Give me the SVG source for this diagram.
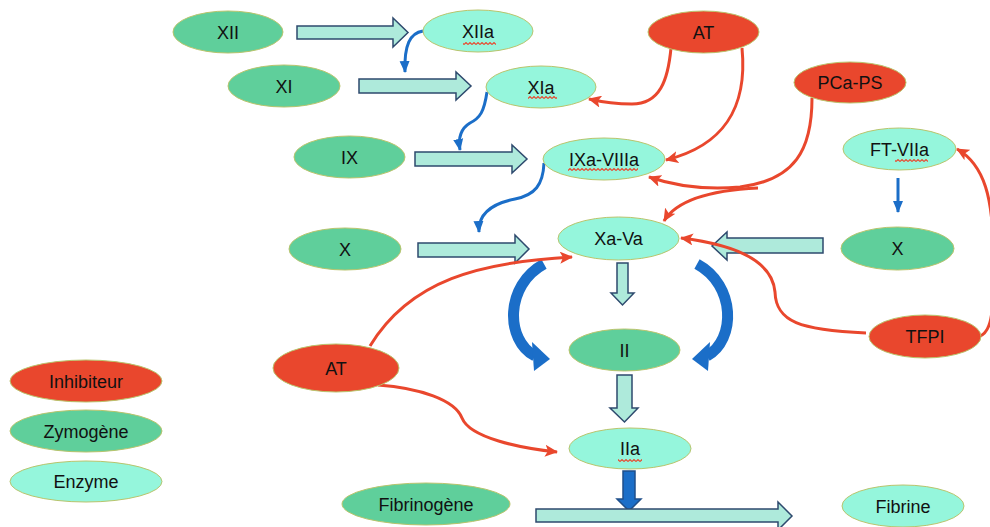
<svg xmlns="http://www.w3.org/2000/svg" width="990" height="527" viewBox="0 0 990 527">
<style>
.inh{fill:#e9472d;stroke:#b9c46c;stroke-width:1}
.zym{fill:#5fcf9b;stroke:#b9c46c;stroke-width:1}
.enz{fill:#95f6dc;stroke:#b9c46c;stroke-width:1}
text{font-family:"Liberation Sans",Arial,sans-serif;font-size:18px;fill:#111;text-anchor:middle}
.blk{fill:#aeeadb;stroke:#2e4a6e;stroke-width:1.5}
.red{fill:none;stroke:#e9472d;stroke-width:3;marker-end:url(#ra)}
.blue{fill:none;stroke:#1b6ec8;stroke-width:3;marker-end:url(#ba)}
.fat{fill:none;stroke:#1b6ec8;stroke-width:11}
.sq{fill:url(#sq)}
</style>
<defs>
<marker id="ra" markerUnits="userSpaceOnUse" markerWidth="14" markerHeight="12" refX="12" refY="6" orient="auto">
<path d="M0,0 L13,6 L0,12 L3,6 z" fill="#e9472d"/>
</marker>
<marker id="ba" markerUnits="userSpaceOnUse" markerWidth="12" markerHeight="12" refX="11" refY="6" orient="auto">
<path d="M0,1 L12,6 L0,11 z" fill="#1b6ec8"/>
</marker>
<pattern id="sq" patternUnits="userSpaceOnUse" width="4" height="3">
<path d="M0,2.5 L2,0.5 L4,2.5" fill="none" stroke="#e9472d" stroke-width="1.1"/>
</pattern>
</defs>

<g id="connectors">
<!-- block arrows -->
<polygon class="blk" points="297,26 393,26 393,18 408,32.5 393,47 393,39 297,39"/>
<polygon class="blk" points="359,79 456,79 456,72 471,86 456,100 456,93 359,93"/>
<polygon class="blk" points="415,152 512,152 512,145 527,159 512,173 512,166 415,166"/>
<polygon class="blk" points="418,243 515,243 515,235 529,249 515,263 515,257 418,257"/>
<polygon class="blk" points="823,238 727,238 727,232 712,246 727,260 727,253 823,253"/>
<polygon class="blk" points="617,263 628,263 628,293 634,293 622.5,305 611,293 617,293"/>
<polygon class="blk" points="617,375 632,375 632,408 638,408 624.5,422 610,408 617,408"/>
<polygon points="623,471 635,471 635,499 641,499 629,511 617,499 623,499" fill="#1b6ec8" stroke="#1f4f8a" stroke-width="1.5"/>
<polygon class="blk" points="536,509 778,509 778,502 792,516 778,530 778,522 536,522"/>
<!-- thin blue arrows -->
<path class="blue" d="M423,31 C410,33 404,45 405,72"/>
<path class="blue" d="M487,92 C484,112 480,118 470,123 C460,129 458,138 460,150"/>
<path class="blue" d="M544,163 C543,185 535,195 515,199 C495,203 478,212 479,232"/>
<path class="blue" d="M898,178 L898,212"/>
<!-- thick blue curved arrows -->
<path class="fat" d="M544,264 C505,285 505,340 535,356"/>
<polygon points="532,342 550,359 534,371" fill="#1b6ec8"/>
<path class="fat" d="M697,264 C736,285 736,340 707,356"/>
<polygon points="710,342 692,359 708,371" fill="#1b6ec8"/>
<!-- red inhibitor connectors -->
<path class="red" d="M671,48 C668,80 660,104 632,104 C615,104 602,102 589,99"/>
<path class="red" d="M742,48 C748,110 722,146 666,160"/>
<path class="red" d="M812,98 C812,150 795,180 740,187 C705,190 675,186 649,177"/>
<path class="red" d="M758,188 C715,190 678,198 664,221"/>
<path class="red" d="M370,346 C410,280 480,262 572,257"/>
<path class="red" d="M378,385 C420,388 455,400 462,418 C470,438 520,448 557,452"/>
<path class="red" d="M866,333 C800,330 776,322 775,292 C772,258 730,244 681,238"/>
<path class="red" d="M980,336 C995,330 993,300 993,250 C993,200 985,165 957,149"/>
</g>

<g id="n-XII"><ellipse class="zym" cx="228" cy="32" rx="55" ry="21"/><text x="228" y="38.5">XII</text></g>
<g id="n-XIIa"><ellipse class="enz" cx="478" cy="31" rx="55" ry="21"/><text x="478" y="37.5">XIIa</text><rect class="sq" x="463" y="42" width="33" height="3"/></g>
<g id="n-XI"><ellipse class="zym" cx="284" cy="86" rx="56" ry="21"/><text x="284" y="92.5">XI</text></g>
<g id="n-XIa"><ellipse class="enz" cx="541" cy="87" rx="55" ry="21"/><text x="541" y="93.5">XIa</text><rect class="sq" x="528" y="96" width="29" height="3"/></g>
<g id="n-AT1"><ellipse class="inh" cx="703.5" cy="32" rx="55.5" ry="21"/><text x="703.5" y="38.5">AT</text></g>
<g id="n-PCaPS"><ellipse class="inh" cx="850" cy="82.5" rx="56" ry="20.5"/><text x="850" y="89">PCa-PS</text></g>
<g id="n-IX"><ellipse class="zym" cx="349.5" cy="157" rx="55.5" ry="21"/><text x="349.5" y="163.5">IX</text></g>
<g id="n-IXaVIIIa"><ellipse class="enz" cx="604" cy="159" rx="61" ry="21"/><text x="604" y="165.5">IXa-VIIIa</text><rect class="sq" x="568" y="168" width="70" height="3"/></g>
<g id="n-FTVIIa"><ellipse class="enz" cx="899.5" cy="149" rx="56.5" ry="21"/><text x="899.5" y="155.5">FT-VIIa</text><rect class="sq" x="895" y="159" width="33" height="3"/></g>
<g id="n-X1"><ellipse class="zym" cx="345" cy="249" rx="56" ry="21"/><text x="345" y="255.5">X</text></g>
<g id="n-XaVa"><ellipse class="enz" cx="618.5" cy="238.5" rx="60.5" ry="21.5"/><text x="618.5" y="245">Xa-Va</text></g>
<g id="n-X2"><ellipse class="zym" cx="897.5" cy="248.5" rx="56.5" ry="21.5"/><text x="897.5" y="255">X</text></g>
<g id="n-II"><ellipse class="zym" cx="624.5" cy="350" rx="55.5" ry="21"/><text x="624.5" y="356.5">II</text></g>
<g id="n-TFPI"><ellipse class="inh" cx="925" cy="336.5" rx="56" ry="21.5"/><text x="925" y="343">TFPI</text></g>
<g id="n-AT2"><ellipse class="inh" cx="336" cy="368" rx="63" ry="24"/><text x="336" y="374.5">AT</text></g>
<g id="n-IIa"><ellipse class="enz" cx="630" cy="448.5" rx="61" ry="20.5"/><text x="630" y="455">IIa</text><rect class="sq" x="618" y="459" width="24" height="3"/></g>
<g id="n-Fibrinogene"><ellipse class="zym" cx="426" cy="504" rx="84" ry="21"/><text x="426" y="510.5">Fibrinogène</text></g>
<g id="n-Fibrine"><ellipse class="enz" cx="903" cy="506" rx="61" ry="21"/><text x="903" y="512.5">Fibrine</text></g>
<g id="legend-inh"><ellipse class="inh" cx="86" cy="381" rx="76" ry="21"/><text x="86" y="387.5">Inhibiteur</text></g>
<g id="legend-zym"><ellipse class="zym" cx="86" cy="431" rx="76" ry="21"/><text x="86" y="437.5">Zymogène</text></g>
<g id="legend-enz"><ellipse class="enz" cx="86" cy="481.5" rx="76" ry="20.5"/><text x="86" y="488">Enzyme</text></g>
</svg>
